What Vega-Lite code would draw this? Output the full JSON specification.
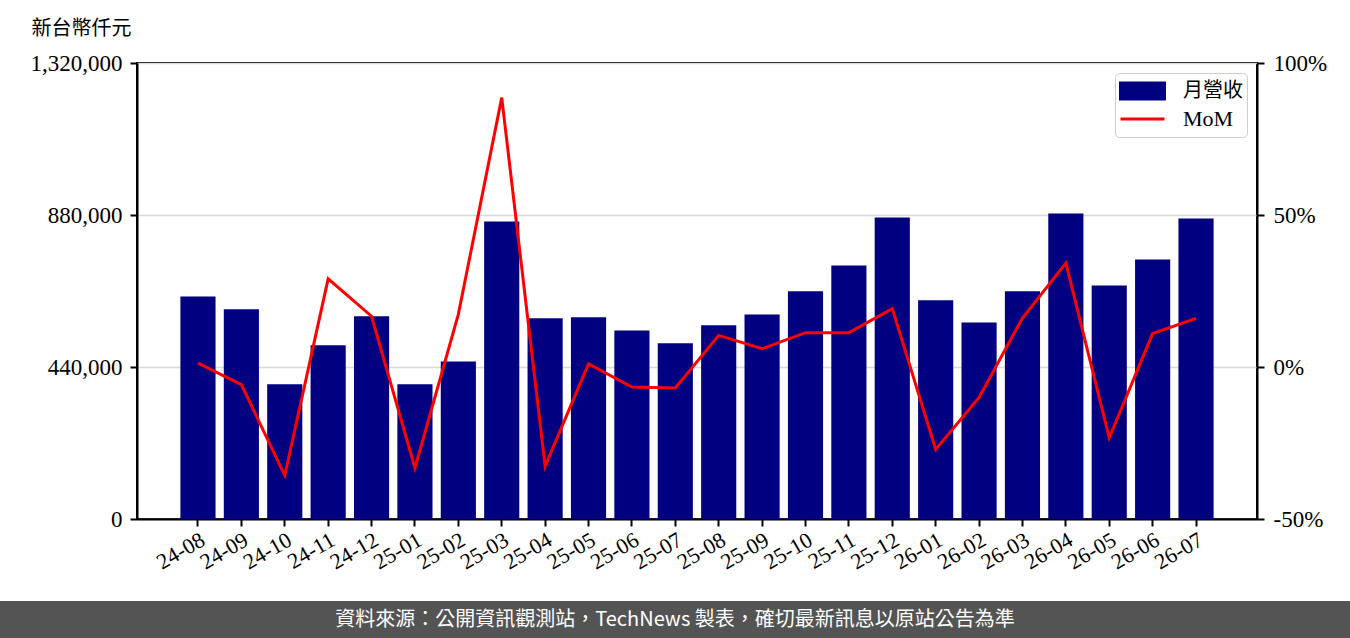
{
  "$schema": "https://vega.github.io/schema/vega-lite/v6.json",
  "padding": {"top": 17, "left": 0, "right": 0, "bottom": 0},
  "background": "white",
  "spacing": 82,
  "bounds": "flush",
  "center": true,
  "config": {"view": {"stroke": null}, "font": "Liberation Serif"},
  "resolve": {"scale": {"color": "independent"}, "legend": {"color": "independent"}},
  "vconcat": [
    {
      "width": 1120,
      "height": 456,
      "view": {"stroke": "black", "strokeWidth": 2},
      "data": {
        "values": [
          {"month": "24-08", "revenue": 644000, "mom": 1.3},
          {"month": "24-09", "revenue": 607000, "mom": -5.8},
          {"month": "24-10", "revenue": 390000, "mom": -35.7},
          {"month": "24-11", "revenue": 503000, "mom": 29.0},
          {"month": "24-12", "revenue": 587000, "mom": 16.7},
          {"month": "25-01", "revenue": 390000, "mom": -33.2},
          {"month": "25-02", "revenue": 456000, "mom": 17.3},
          {"month": "25-03", "revenue": 861000, "mom": 88.6},
          {"month": "25-04", "revenue": 581000, "mom": -32.6},
          {"month": "25-05", "revenue": 584000, "mom": 1.0},
          {"month": "25-06", "revenue": 546000, "mom": -6.6},
          {"month": "25-07", "revenue": 509000, "mom": -6.9},
          {"month": "25-08", "revenue": 561000, "mom": 10.4},
          {"month": "25-09", "revenue": 592000, "mom": 6.0},
          {"month": "25-10", "revenue": 659000, "mom": 11.3},
          {"month": "25-11", "revenue": 734000, "mom": 11.3},
          {"month": "25-12", "revenue": 873000, "mom": 19.2},
          {"month": "26-01", "revenue": 633000, "mom": -27.1},
          {"month": "26-02", "revenue": 569000, "mom": -10.0},
          {"month": "26-03", "revenue": 659000, "mom": 16.1},
          {"month": "26-04", "revenue": 884000, "mom": 34.2},
          {"month": "26-05", "revenue": 676000, "mom": -23.3},
          {"month": "26-06", "revenue": 751000, "mom": 11.0},
          {"month": "26-07", "revenue": 870000, "mom": 16.0}
        ]
      },
      "encoding": {
        "x": {
          "field": "month",
          "type": "ordinal",
          "sort": null,
          "scale": {"paddingInner": 0.19, "paddingOuter": 1.185},
          "axis": {
            "title": null,
            "labelAngle": -30,
            "labelAlign": "right",
            "labelBaseline": "top",
            "labelFont": "Liberation Serif",
            "labelFontSize": 22,
            "labelColor": "black",
            "labelPadding": 3,
            "labelOverlap": false,
            "labelBound": false,
            "tickSize": 7,
            "tickWidth": 2,
            "tickColor": "black",
            "domainColor": "black",
            "domainWidth": 2
          }
        }
      },
      "layer": [
        {
          "mark": {"type": "bar", "fill": "#000080"},
          "encoding": {
            "y": {
              "field": "revenue",
              "type": "quantitative",
              "scale": {"domain": [0, 1320000], "nice": false},
              "axis": {
                "title": "新台幣仟元",
                "titleAngle": 0,
                "titleAlign": "left",
                "titleBaseline": "middle",
                "titleX": -106,
                "titleY": -35,
                "titleFont": "Noto Sans CJK TC",
                "titleFontSize": 20,
                "titleFontWeight": "normal",
                "titleColor": "black",
                "values": [0, 440000, 880000, 1320000],
                "format": ",d",
                "labelFont": "Liberation Serif",
                "labelFontSize": 23,
                "labelColor": "black",
                "labelPadding": 8,
                "labelOverlap": false,
                "labelFlush": false,
                "grid": true,
                "gridColor": "#d9d9d9",
                "gridWidth": 1.5,
                "tickSize": 7,
                "tickWidth": 2,
                "tickColor": "black",
                "domainColor": "black",
                "domainWidth": 2
              }
            },
            "color": {
              "datum": "月營收",
              "type": "nominal",
              "scale": {"domain": ["月營收", "MoM"], "range": ["#000080", "#ff0000"]},
              "legend": {
                "title": null,
                "orient": "top-right",
                "offset": 10,
                "padding": 4,
                "fillColor": "white",
                "strokeColor": "#cccccc",
                "cornerRadius": 4,
                "labelFont": "Liberation Serif, Noto Sans CJK TC",
                "labelFontSize": 22,
                "labelColor": "black",
                "labelOffset": 17,
                "symbolSize": 1936,
                "clipHeight": 28,
                "rowPadding": 0,
                "encode": {
                  "symbols": {
                    "update": {
                      "shape": {"signal": "datum.value === 'MoM' ? 'M-1,0H1' : 'M-1,-0.36H1V0.36H-1Z'"},
                      "fill": {"signal": "datum.value === 'MoM' ? 'transparent' : '#000080'"},
                      "stroke": {"signal": "datum.value === 'MoM' ? '#ff0000' : 'transparent'"},
                      "strokeWidth": {"value": 3},
                      "opacity": {"value": 1}
                    }
                  },
                  "labels": {
                    "update": {
                      "fontSize": {"signal": "datum.value === 'MoM' ? 22 : 20"}
                    }
                  }
                }
              }
            }
          }
        },
        {
          "mark": {"type": "line", "strokeWidth": 3},
          "encoding": {
            "y": {
              "field": "mom",
              "type": "quantitative",
              "scale": {"domain": [-50, 100], "nice": false},
              "axis": {
                "orient": "right",
                "title": null,
                "values": [-50, 0, 50, 100],
                "labelExpr": "datum.value + '%'",
                "labelFont": "Liberation Serif",
                "labelFontSize": 23,
                "labelColor": "black",
                "labelPadding": 9,
                "labelOverlap": false,
                "labelFlush": false,
                "grid": false,
                "tickSize": 7,
                "tickWidth": 2,
                "tickColor": "black",
                "domainColor": "black",
                "domainWidth": 2
              }
            },
            "color": {"datum": "MoM", "type": "nominal"}
          }
        }
      ],
      "resolve": {"scale": {"y": "independent"}}
    },
    {
      "width": 1394,
      "height": 38,
      "view": {"fill": "#545454", "stroke": null},
      "data": {"values": [{"note": "資料來源：公開資訊觀測站，TechNews 製表，確切最新訊息以原站公告為準"}]},
      "mark": {"type": "text", "color": "white", "font": "Noto Sans CJK TC", "fontSize": 20, "dx": -22},
      "encoding": {"text": {"field": "note", "type": "nominal"}}
    }
  ]
}
